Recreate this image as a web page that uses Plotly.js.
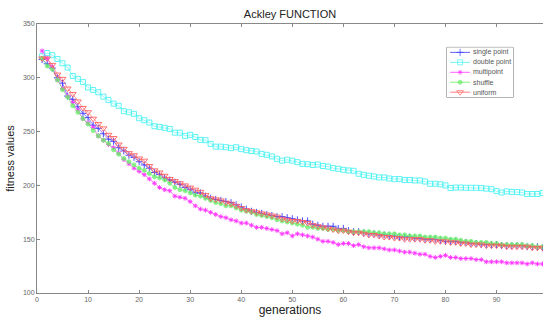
<!DOCTYPE html>
<html>
<head>
<meta charset="utf-8">
<script src="https://cdn.plot.ly/plotly-3.0.1.min.js"></script>
<style>html,body{margin:0;padding:0;background:#fff;overflow:hidden}</style>
</head>
<body>
<div id="chart" style="width:543px;height:320px"></div>
<script>
// ---- data ----
const generations = Array.from({length: 99}, (_, i) => i + 1);
const seriesNames = ["single point", "double point", "multipoint", "shuffle", "uniform"];
const singlePoint = [317,313,309,300,295,283,280,273,267,263,256,253,248,243,241,235,232,228,226,222,219,216,212,210,207,205,203,201,198,196,193,193,190,188,187,186,185,184,182,180,178,176,175,174,173,172,171,171,170,169,168,167,167,164,163,162,162,162,160,160,158,157,157,156,155,155,154,154,153,153,152,152,152,151,151,150,150,150,149,148,148,148,147,147,146,146,145,145,145,145,144,144,144,144,144,143,143,143,142];
const doublePoint = [320,323,321,317.5,313.5,309.5,301.7,299,296,291,288.7,286.6,282.5,279.5,276,274,269,268,266.5,262.4,260.6,258.4,255,254.4,253.5,252.5,249,249,246,247,245,242.3,242,238.6,236,236,235.5,234.6,235.5,233.7,232.7,232,231.5,229.3,228.4,226.9,224.7,223,223.8,223,221.6,220,219.7,219,219.4,218,217.5,216,215.4,214.5,213.9,213.6,210.8,209.8,209,208.3,207.4,207.4,206.4,205.8,206,205,205,204.6,204.6,203.6,201.5,201.5,201,200,197.5,198,198,197.8,197.8,197.8,197.5,197,196.5,194.7,193.4,194.4,194,193.8,193.4,192,192,192,193];
const multiPoint = [325,318,310,298,290,283,277,270,262,258,254,246,242,238,235,230,224,220,216,213,210,206,202,198,196,195,190,189,188,185,181,178,177,175,173,171,170,168,167,165,165,163,161,161,160,159,158,155,156,153,155,154,153,152,150,148,148,147,145,146,146,144,145,143,142,142,142,141,140,140,139,138,138,137,136,136,134,133,134,135,133,133,132,132,132,131,131,129,129,129,129,128,128,128,128,127,128,127,127];
const shuffle = [318,311,308,298,289,282,274,268,262,257,251,246,242,239,233,229,225,222,219,216,214,211,208,207,205,202,198,196,195,193,191,190,188,186,184,183,181,181,179,177,176,175,173,172,171,170,168,167,166,165,164,163,161,161,160,160,159,159,158,158,157,157,157,157,157,156,156,155,155,155,154,154,153,153,153,152,152,152,151,151,150,150,149,148,148,147,147,147,146,146,145,145,145,145,145,144,144,143,143];
const uniform = [318,318,312,303,299,290,285,278,272,268,262,257,253,247,244,238,234,230,228,225,223,218,214,212,209,206,204,202,200,198,196,194,191,188,187,186,184,183,181,179,177,176,175,174,173,172,171,169,168,167,167,166,165,163,162,161,160,159,158,158,157,156,156,155,154,154,153,152,152,151,151,150,150,150,150,149,149,148,148,148,147,147,146,146,145,145,145,144,144,144,144,143,143,143,143,143,142,142,142];
const xTicks = [0,10,20,30,40,50,60,70,80,90];
const yTicks = [100,150,200,250,300,350];

// ---- styles ----
const allValues = [singlePoint, doublePoint, multiPoint, shuffle, uniform];
const colors = ["#3b3bff", "#4cf2f2", "#ff33ff", "#66ee66", "#ff6060"];
const symbols = ["cross-thin-open", "square-open", "asterisk-open", "circle", "triangle-down-open"];
const sizes = [5, 5, 4, 4, 6];

const traces = [];
allValues.forEach((vals, i) => {
  traces.push({
    x: generations, y: vals, type: "scatter", mode: "lines+markers",
    name: seriesNames[i], showlegend: false,
    line: {color: colors[i], width: 0.6},
    marker: {symbol: symbols[i], size: sizes[i], color: colors[i],
             line: {color: colors[i], width: 1}, opacity: i === 3 ? 0.75 : 0.9}
  });
});
// custom legend samples on an overlay axis
allValues.forEach((vals, i) => {
  const row = 4.5 - i;
  traces.push({
    x: [0.05, 0.2, 0.35], y: [row, row, row], xaxis: "x2", yaxis: "y2",
    type: "scatter", mode: "lines+markers", showlegend: false, hoverinfo: "skip",
    line: {color: colors[i], width: 0.8},
    marker: {symbol: symbols[i], size: [0, sizes[i], 0], color: colors[i],
             line: {color: colors[i], width: 1}}
  });
});
const annotations = seriesNames.map((n, i) => ({
  text: n, x: 0.37, y: 4.5 - i, xref: "x2", yref: "y2", xanchor: "left", yanchor: "middle",
  showarrow: false, font: {family: "Liberation Sans, Arial", size: 7, color: "#555"}
}));

const layout = {
  width: 543, height: 320,
  margin: {l: 37, r: 0, t: 23.5, b: 26.7},
  paper_bgcolor: "#fff", plot_bgcolor: "#fff",
  showlegend: false,
  title: {text: "Ackley FUNCTION", x: 0.5, xref: "paper", y: 0.955, yref: "container",
          yanchor: "middle", font: {family: "Liberation Sans, Arial", size: 11, color: "#222"}},
  xaxis: {range: [0, 99.1], tickvals: xTicks, ticktext: xTicks.map(String),
          ticks: "inside", ticklen: 3, tickcolor: "#888", showline: true, linecolor: "#888",
          linewidth: 1, mirror: "ticks", showgrid: false, zeroline: false,
          tickfont: {family: "Liberation Sans, Arial", size: 7, color: "#666"},
          title: {text: "generations", standoff: 3,
                  font: {family: "Liberation Sans, Arial", size: 12, color: "#222"}}},
  yaxis: {range: [100, 350], tickvals: yTicks, ticktext: yTicks.map(String),
          ticks: "inside", ticklen: 3, tickcolor: "#888", showline: true, linecolor: "#888",
          linewidth: 1, mirror: false, showgrid: false, zeroline: false,
          tickfont: {family: "Liberation Sans, Arial", size: 7, color: "#666"},
          title: {text: "fitness values", standoff: 6,
                  font: {family: "Liberation Sans, Arial", size: 11, color: "#222"}}},
  xaxis2: {domain: [0.81, 0.941], range: [0, 1], visible: false, fixedrange: true, anchor: "y2"},
  yaxis2: {domain: [0.728, 0.913], range: [0, 5], visible: false, fixedrange: true, anchor: "x2"},
  annotations: annotations,
  shapes: [{type: "rect", xref: "paper", yref: "paper", x0: 0.81, x1: 0.941, y0: 0.728, y1: 0.913,
            line: {color: "#777", width: 1}, fillcolor: "rgba(0,0,0,0)", layer: "below"}]
};

Plotly.newPlot("chart", traces, layout, {displayModeBar: false, staticPlot: true});
</script>
</body>
</html>
